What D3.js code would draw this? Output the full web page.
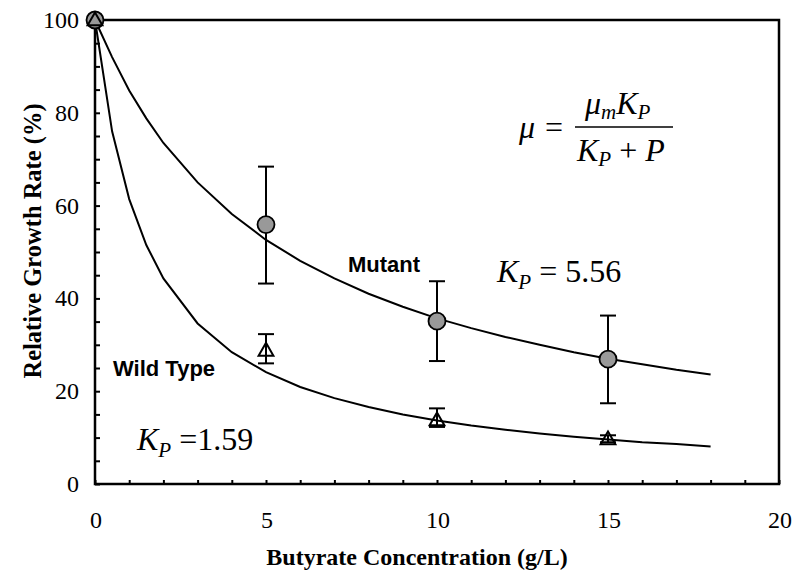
<!DOCTYPE html>
<html><head><meta charset="utf-8">
<script src="https://cdn.jsdelivr.net/npm/d3@7"></script>
<style>
body{margin:0;background:#fff}
.serif{font-family:"Liberation Serif","Times New Roman",Times,serif}
.sans{font-family:"Liberation Sans",Arial,Helvetica,sans-serif}
</style>
</head><body>
<svg id="c" width="795" height="573"></svg>
<script>
// data
const xTicks = [0, 5, 10, 15, 20];
const yTicks = [0, 20, 40, 60, 80, 100];
const mutantX = [0, 5, 10, 15];
const mutantY = [100, 55.9, 35.1, 26.9];
const mutantLo = [100, 43.2, 26.5, 17.4];
const mutantHi = [100, 68.4, 43.7, 36.3];
const wildX = [0, 5, 10, 15];
const wildY = [100, 28.8, 13.8, 9.7];
const wildLo = [100, 26.0, 12.3, 9.0];
const wildHi = [100, 32.3, 16.3, 10.5];
const curveX = [0, 0.5, 1, 1.5, 2, 3, 4, 5, 6, 7, 8, 9, 10, 11, 12, 13, 14, 15, 16, 17, 18];
const mutantCurve = [100, 92, 84.8, 78.8, 73.5, 65.0, 58.2, 52.6, 48.1, 44.3, 41.0, 38.2, 35.7, 33.6, 31.7, 30.0, 28.4, 27.0, 25.8, 24.6, 23.6];
const wildCurve = [100, 76, 61.4, 51.5, 44.3, 34.6, 28.4, 24.1, 20.9, 18.5, 16.6, 15.0, 13.7, 12.6, 11.7, 10.9, 10.2, 9.6, 9.0, 8.6, 8.1];

const svg = d3.select("#c");
const L = 95, R = 779, T = 20, B = 484;
const x = d3.scaleLinear().domain([0, 20]).range([L, R]);
const y = d3.scaleLinear().domain([0, 100]).range([B, T]);

// frame
svg.append("rect").attr("x", L).attr("y", T).attr("width", R - L).attr("height", B - T)
  .attr("fill", "none").attr("stroke", "#000").attr("stroke-width", 2.5);

// minor ticks
const xa = svg.append("g").attr("transform", `translate(0,${B})`)
  .call(d3.axisBottom(x).tickValues(d3.range(0, 21, 1)).tickSize(-4).tickFormat(""));
xa.select(".domain").remove();
xa.selectAll("line").attr("stroke-width", 2);
const ya = svg.append("g").attr("transform", `translate(${L},0)`)
  .call(d3.axisLeft(y).tickValues(d3.range(0, 101, 5)).tickSize(-5).tickFormat(""));
ya.select(".domain").remove();
ya.selectAll("line").attr("stroke-width", 2);

// tick labels
svg.append("g").selectAll("text").data(xTicks).join("text").attr("class", "serif")
  .attr("x", d => x(d) + 1).attr("y", 528).attr("text-anchor", "middle")
  .attr("font-size", 24).text(d => d);
svg.append("g").selectAll("text").data(yTicks).join("text").attr("class", "serif")
  .attr("x", 79).attr("y", d => y(d) + 8).attr("text-anchor", "end")
  .attr("font-size", 24).text(d => d);

// axis titles
svg.append("text").attr("class", "serif").attr("x", 417).attr("y", 565).attr("text-anchor", "middle")
  .attr("font-weight", "bold").attr("font-size", 24)
  .text("Butyrate Concentration (g/L)");
svg.append("text").attr("class", "serif").attr("transform", "translate(41,241) rotate(-90)").attr("text-anchor", "middle")
  .attr("font-weight", "bold").attr("font-size", 24.5)
  .text("Relative Growth Rate (%)");

// curves
const line = d3.line().x(d => x(d[0])).y(d => y(d[1]));
svg.append("path").datum(curveX.map((v, i) => [v, mutantCurve[i]])).attr("d", line)
  .attr("fill", "none").attr("stroke", "#000").attr("stroke-width", 2);
svg.append("path").datum(curveX.map((v, i) => [v, wildCurve[i]])).attr("d", line)
  .attr("fill", "none").attr("stroke", "#000").attr("stroke-width", 2);

// error bars
function errBars(xs, lo, hi) {
  const g = svg.append("g").attr("stroke", "#000").attr("stroke-width", 2);
  xs.forEach((v, i) => {
    if (lo[i] === hi[i]) return;
    g.append("line").attr("x1", x(v)).attr("x2", x(v)).attr("y1", y(lo[i])).attr("y2", y(hi[i]));
    g.append("line").attr("x1", x(v) - 8).attr("x2", x(v) + 8).attr("y1", y(lo[i])).attr("y2", y(lo[i]));
    g.append("line").attr("x1", x(v) - 8).attr("x2", x(v) + 8).attr("y1", y(hi[i])).attr("y2", y(hi[i]));
  });
}
errBars(mutantX, mutantLo, mutantHi);
errBars(wildX, wildLo, wildHi);

// markers
svg.append("g").selectAll("circle").data(mutantX).join("circle")
  .attr("cx", d => x(d)).attr("cy", (d, i) => y(mutantY[i])).attr("r", 8.5)
  .attr("fill", "#999").attr("stroke", "#000").attr("stroke-width", 1.8);
const tri = d3.symbol().type(d3.symbolTriangle).size(95);
svg.append("g").selectAll("path").data(wildX).join("path")
  .attr("transform", (d, i) => `translate(${x(d)},${y(wildY[i]) + 1})`)
  .attr("d", tri).attr("fill", (d, i) => i === 0 ? "#999" : "none")
  .attr("stroke", "#000").attr("stroke-width", 2);

// labels
svg.append("text").attr("class", "sans").attr("x", 348).attr("y", 272).attr("font-weight", "bold")
  .attr("font-size", 22).text("Mutant");
svg.append("text").attr("class", "sans").attr("x", 113).attr("y", 376).attr("font-weight", "bold")
  .attr("font-size", 22).text("Wild Type");

function kp(xp, yp, rest) {
  const t = svg.append("text").attr("class", "serif").attr("x", xp).attr("y", yp).attr("font-size", 32);
  t.append("tspan").attr("font-style", "italic").text("K");
  t.append("tspan").attr("font-style", "italic").attr("font-size", 21).attr("dy", 7).text("P");
  t.append("tspan").attr("dy", -7).text(rest);
}
kp(497, 282, " = 5.56");
kp(137, 450, " =1.59");

// formula
const f = svg.append("g").attr("class", "serif").attr("font-size", 32);
f.append("text").attr("x", 519).attr("y", 138).attr("font-style", "italic").text("\u03BC");
f.append("text").attr("x", 545).attr("y", 138).text("=");
f.append("line").attr("x1", 575).attr("x2", 673).attr("y1", 127).attr("y2", 127).attr("stroke", "#000").attr("stroke-width", 1.5);
f.append("text").attr("x", 585).attr("y", 114).call(t => {
  t.append("tspan").attr("font-style", "italic").text("\u03BC");
  t.append("tspan").attr("font-style", "italic").attr("font-size", 21).attr("dy", 5).text("m");
  t.append("tspan").attr("font-style", "italic").attr("dy", -5).text("K");
  t.append("tspan").attr("font-style", "italic").attr("font-size", 21).attr("dy", 5).text("P");
});
f.append("text").attr("x", 577).attr("y", 161).call(t => {
  t.append("tspan").attr("font-style", "italic").text("K");
  t.append("tspan").attr("font-style", "italic").attr("font-size", 21).attr("dy", 5).text("P");
  t.append("tspan").attr("dy", -5).text(" + ");
  t.append("tspan").attr("font-style", "italic").text("P");
});
</script>
</body></html>
